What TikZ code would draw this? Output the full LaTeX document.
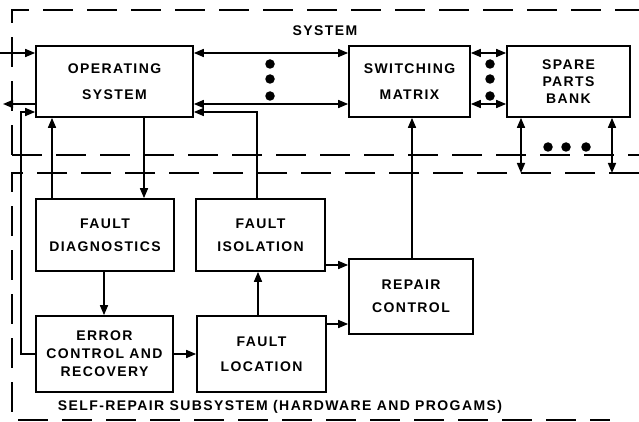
\documentclass[tikz,border=0pt]{standalone}
\usepackage{fontspec}
\setmainfont{Liberation Sans}
\newfontfamily\lblfont[LetterSpace=10]{Liberation Sans}
\usetikzlibrary{arrows.meta}
\begin{document}
\begin{tikzpicture}[x=1pt,y=-1pt,
  txt/.style={font=\lblfont\bfseries\fontsize{14}{17}\selectfont, align=center, inner sep=0pt},
  box/.style={txt, draw, line width=1.7pt},
  conn/.style={line width=1.6pt},
  arr/.style={conn, -{Triangle[length=10pt,width=8pt]}},
  darr/.style={conn, {Triangle[length=10pt,width=8pt]}-{Triangle[length=10pt,width=8pt]}},
  bound/.style={line width=1.5pt, dash pattern=on 30pt off 14pt},
  dot/.style={circle, fill, inner sep=0pt, minimum size=9.5pt},
]
\useasboundingbox[fill=white] (0,0) rectangle (639,422);

% boxes
\node[box, minimum width=157pt, minimum height=71pt] (os) at (114.5,81.5) {OPERATING\\[9pt]SYSTEM};
\node[box, minimum width=121pt, minimum height=71pt] (sm) at (409.5,81.5) {SWITCHING\\[9pt]MATRIX};
\node[box, minimum width=123pt, minimum height=71pt] (spb) at (568.5,81.5) {SPARE\\PARTS\\BANK};
\node[box, minimum width=138pt, minimum height=72pt] (fd) at (105,235) {FAULT\\[6pt]DIAGNOSTICS};
\node[box, minimum width=129pt, minimum height=72pt] (fi) at (260.5,235) {FAULT\\[6pt]ISOLATION};
\node[box, minimum width=137pt, minimum height=76pt] (ec) at (104.5,354) {ERROR\\[1pt]CONTROL AND\\[1pt]RECOVERY};
\node[box, minimum width=129pt, minimum height=76pt] (fl) at (261.5,354) {FAULT\\[8pt]LOCATION};
\node[box, minimum width=124pt, minimum height=75pt] (rc) at (411,296.5) {REPAIR\\[6pt]CONTROL};

% labels
\node[txt] (sys) at (325,31) {SYSTEM};
\node[txt] (srs) at (280,407) {SELF-REPAIR SUBSYSTEM (HARDWARE AND PROGAMS)};

% boundaries
\draw[bound] (12,155) -- (12,10) -- (639,10);
\draw[bound] (12,155) -- (639,155);
\draw[bound] (639,173) -- (12,173) -- (12,420) -- (610,420);

% helper coordinates
\coordinate (inL) at (0,53);
\coordinate (outL) at (3,104);
\coordinate (fbk) at (21,112);
\coordinate (r1) at (0,53);
\coordinate (r2) at (0,104);
\coordinate (fiu) at (257,112);
\coordinate (c52) at (52,0);
\coordinate (c144) at (144,0);
\coordinate (c412) at (412,0);
\coordinate (c104) at (104,0);
\coordinate (c258) at (258,0);
\coordinate (c265) at (0,265);
\coordinate (c324) at (0,324);
\coordinate (sb1) at (521,173);
\coordinate (sb2) at (612,173);

% connectors
\draw[arr] (inL) -- (inL -| os.west);
\draw[arr] (os.west |- outL) -- (outL);
\draw[arr] (ec.west) -- (ec.west -| fbk) -- (fbk) -- (fbk -| os.west);
\draw[darr] (os.east |- r1) -- (sm.west |- r1);
\draw[darr] (os.east |- r2) -- (sm.west |- r2);
\draw[darr] (sm.east |- r1) -- (spb.west |- r1);
\draw[darr] (sm.east |- r2) -- (spb.west |- r2);
\draw[arr] (fi.north -| fiu) -- (fiu) -- (fiu -| os.east);
\draw[arr] (fd.north -| c52) -- (os.south -| c52);
\draw[arr] (os.south -| c144) -- (fd.north -| c144);
\draw[darr] (spb.south -| sb1) -- (sb1);
\draw[darr] (spb.south -| sb2) -- (sb2);
\draw[arr] (rc.north -| c412) -- (sm.south -| c412);
\draw[arr] (fd.south -| c104) -- (ec.north -| c104);
\draw[arr] (ec.east) -- (ec.east -| fl.west);
\draw[arr] (fl.north -| c258) -- (fi.south -| c258);
\draw[arr] (fi.east |- c265) -- (rc.west |- c265);
\draw[arr] (fl.east |- c324) -- (rc.west |- c324);

% dots
\node[dot] (da1) at (270,64) {};
\node[dot] (da2) at (270,79) {};
\node[dot] (da3) at (270,96) {};
\node[dot] (db1) at (490,64) {};
\node[dot] (db2) at (490,79) {};
\node[dot] (db3) at (490,96) {};
\node[dot] (dc1) at (548,147) {};
\node[dot] (dc2) at (566,147) {};
\node[dot] (dc3) at (586,147) {};
\end{tikzpicture}
\end{document}
